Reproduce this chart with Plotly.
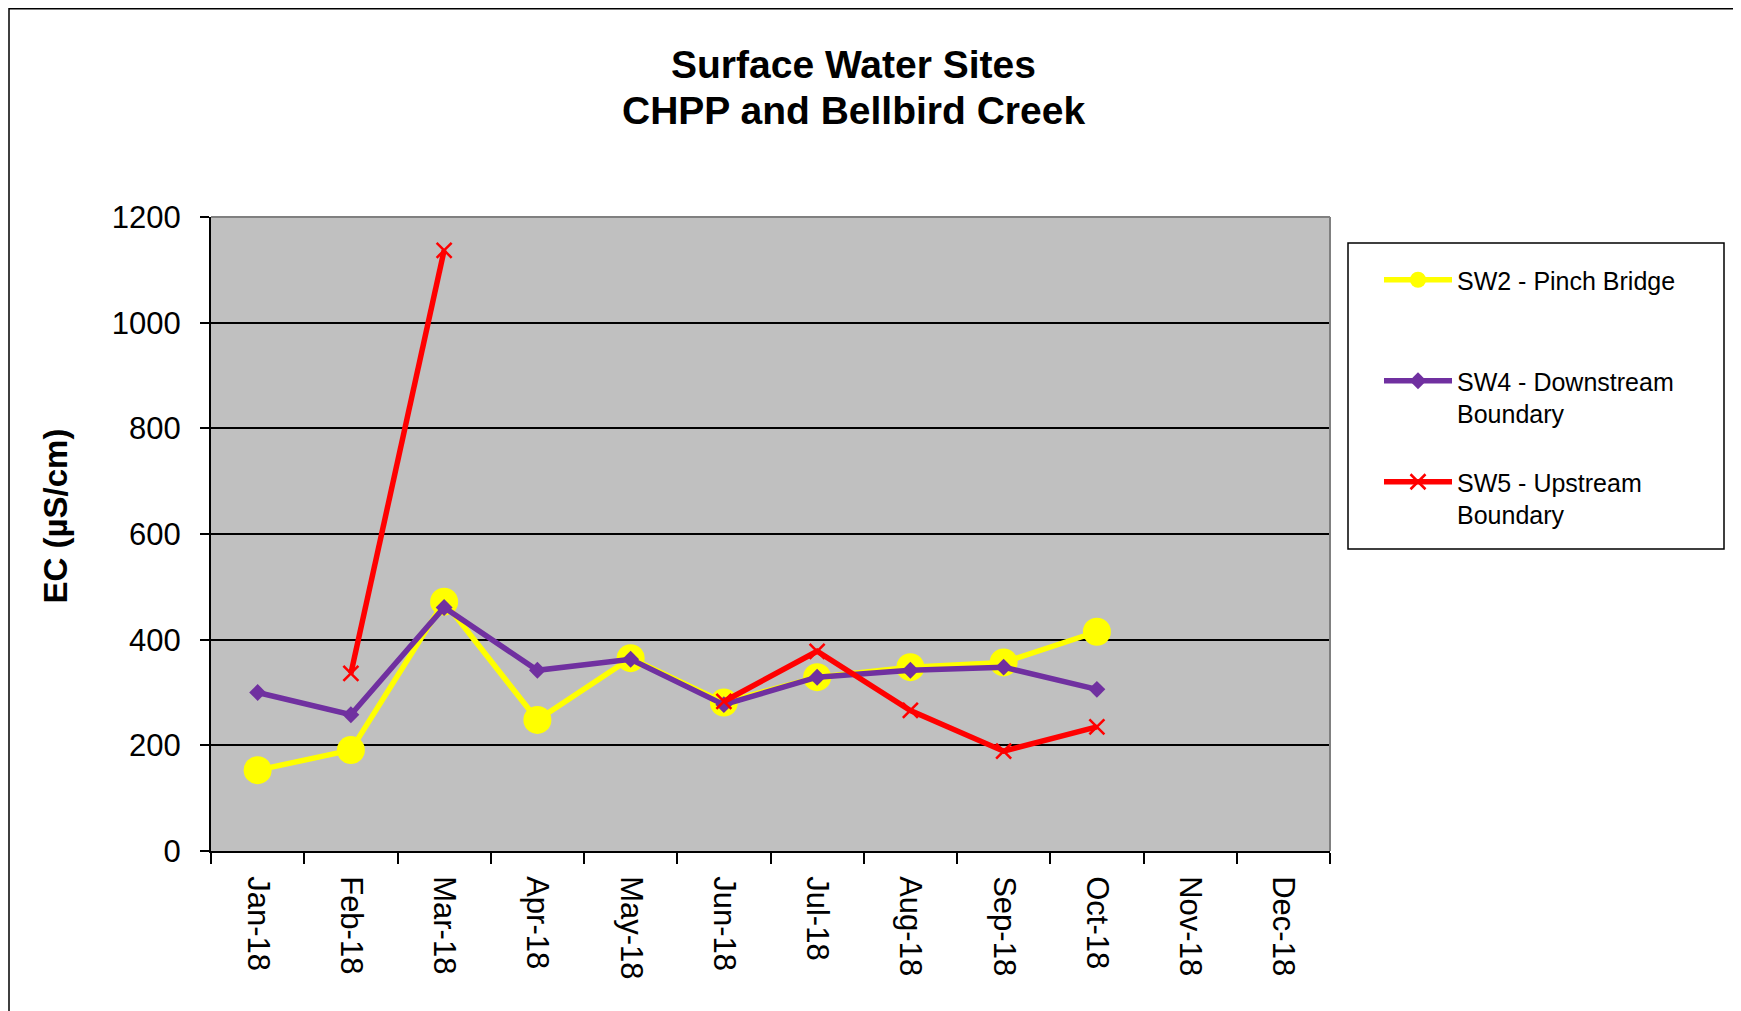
"""
plot.py

Surface water EC chart for CHPP and Bellbird Creek.
"""

import plotly.graph_objects as go

months = ["Jan-18", "Feb-18", "Mar-18", "Apr-18", "May-18", "Jun-18",
          "Jul-18", "Aug-18", "Sep-18", "Oct-18", "Nov-18", "Dec-18"]

sw2_pinch_bridge = [153, 191, 472, 248, 365, 281, 329, 348, 357, 415, None, None]
sw4_downstream = [300, 258, 461, 342, 363, 277, 329, 342, 348, 306, None, None]
sw5_upstream = [None, 336, 1137, None, None, 283, 378, 266, 189, 235, None, None]

FONT = "Liberation Sans, Arial, sans-serif"

# plot area in figure pixels
PLOT_LEFT, PLOT_RIGHT, PLOT_TOP, PLOT_BOTTOM = 203, 1322, 209, 843
PLOT_W = PLOT_RIGHT - PLOT_LEFT
PLOT_H = PLOT_BOTTOM - PLOT_TOP


def px(x):
    return (x - PLOT_LEFT) / PLOT_W


def py(y):
    return (PLOT_BOTTOM - y) / PLOT_H


figure = go.Figure()

# SW2 - yellow line with large round markers
figure.add_trace(
    go.Scatter(
        x=months,
        y=sw2_pinch_bridge,
        mode="lines+markers",
        name="SW2 - Pinch Bridge",
        legend="legend",
        line=dict(color="#FFFF00", width=5.5),
        marker=dict(symbol="circle", size=28, color="#FFFF00"),
        connectgaps=False
    )
)

# SW4 - purple line with diamonds
figure.add_trace(
    go.Scatter(
        x=months,
        y=sw4_downstream,
        mode="lines+markers",
        name="SW4 - Downstream<br>Boundary",
        legend="legend2",
        line=dict(color="#7030A0", width=5.5),
        marker=dict(symbol="diamond", size=13, color="#7030A0"),
        connectgaps=False
    )
)

# SW5 - red line with crosses
figure.add_trace(
    go.Scatter(
        x=months,
        y=sw5_upstream,
        mode="lines+markers",
        name="SW5 - Upstream<br>Boundary",
        legend="legend3",
        line=dict(color="#FF0000", width=5.5),
        marker=dict(symbol="x-thin", size=15,
                    line=dict(color="#FF0000", width=2.5)),
        connectgaps=False
    )
)

legend_style = dict(
    x=px(1371),
    xanchor="left",
    yanchor="top",
    bgcolor="rgba(0,0,0,0)",
    borderwidth=0,
    font=dict(size=25, family=FONT, color="black"),
    itemwidth=68,
    valign="top"
)

figure.update_layout(
    width=1733,
    height=1003,
    margin=dict(l=PLOT_LEFT, r=1733 - PLOT_RIGHT, t=PLOT_TOP, b=1003 - PLOT_BOTTOM),
    paper_bgcolor="white",
    plot_bgcolor="#C0C0C0",
    font=dict(family=FONT, color="black"),
    showlegend=True,
    legend=dict(y=py(249), **legend_style),
    legend2=dict(y=py(350), **legend_style),
    legend3=dict(y=py(451), **legend_style)
)

figure.update_xaxes(
    type="category",
    range=[-0.5, 11.5],
    tickson="boundaries",
    ticks="outside",
    ticklen=11,
    tickwidth=1.5,
    tickcolor="black",
    tickangle=90,
    ticklabelstandoff=17,
    tickfont=dict(size=31, family=FONT, color="black"),
    showgrid=False,
    showline=True,
    linecolor="black",
    linewidth=2,
    zeroline=False
)

figure.update_yaxes(
    range=[0, 1200],
    dtick=200,
    ticks="outside",
    ticklen=9,
    tickwidth=1.5,
    tickcolor="black",
    ticklabelstandoff=13,
    tickfont=dict(size=31, family=FONT, color="black"),
    showgrid=True,
    gridcolor="black",
    gridwidth=1.5,
    showline=True,
    linecolor="black",
    linewidth=2,
    zeroline=False
)

# chart title, two lines
figure.add_annotation(
    text="<b>Surface Water Sites</b>",
    xref="paper", yref="paper",
    x=px(845), y=py(56.5),
    xanchor="center", yanchor="middle",
    showarrow=False,
    font=dict(size=39, family=FONT, color="black")
)
figure.add_annotation(
    text="<b>CHPP and Bellbird Creek</b>",
    xref="paper", yref="paper",
    x=px(845), y=py(103),
    xanchor="center", yanchor="middle",
    showarrow=False,
    font=dict(size=39, family=FONT, color="black")
)

# y-axis title
figure.add_annotation(
    text="<b>EC (µS/cm)</b>",
    xref="paper", yref="paper",
    x=px(47.5), y=py(508),
    xanchor="center", yanchor="middle",
    textangle=-90,
    showarrow=False,
    font=dict(size=33, family=FONT, color="black")
)

# gray frame on top and right of the plot area
figure.add_shape(type="line", xref="paper", yref="paper",
                 x0=0, x1=1, y0=1, y1=1,
                 line=dict(color="#808080", width=2))
figure.add_shape(type="line", xref="paper", yref="paper",
                 x0=1, x1=1, y0=0, y1=1,
                 line=dict(color="#808080", width=2))

# legend box
figure.add_shape(type="rect", xref="paper", yref="paper",
                 x0=px(1340), x1=px(1716), y0=py(541), y1=py(235),
                 line=dict(color="black", width=1.5),
                 fillcolor="white", layer="below")

# outer chart border
figure.add_shape(type="rect", xref="paper", yref="paper",
                 x0=px(1), x1=px(1760), y0=py(1030), y1=py(0.75),
                 line=dict(color="black", width=1.5),
                 layer="below")

figure.write_html("out.html")
